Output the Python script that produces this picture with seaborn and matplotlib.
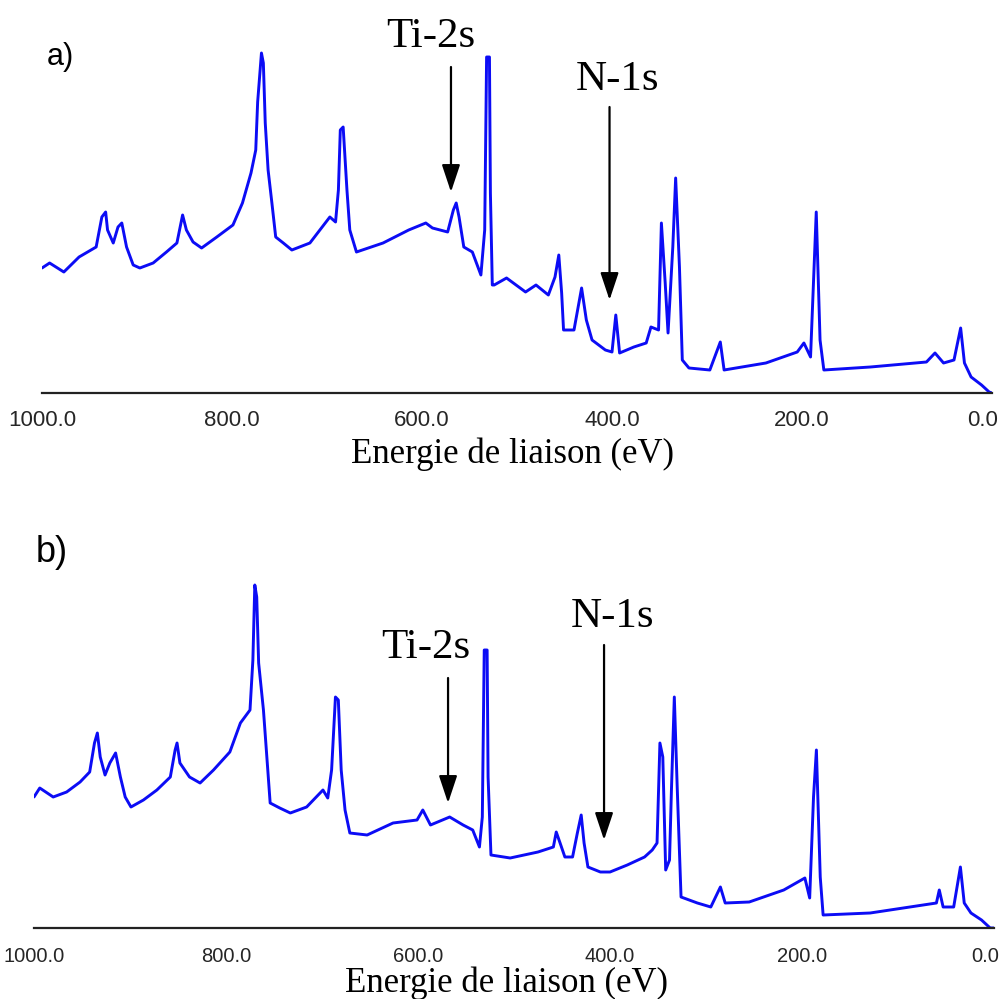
import matplotlib
matplotlib.use("Agg")
import matplotlib.pyplot as plt
import matplotlib.transforms as mtransforms
import seaborn as sns
import pandas as pd

# ---------------- data (binding energy in eV, intensity in arbitrary units) -------------
energy_a = [1000, 992, 977, 961, 943, 937, 933, 931, 925, 920, 916, 911, 904, 897, 883, 869,
            858, 852, 848, 841, 832, 816, 799, 789, 780, 775, 773, 769, 767, 765, 762, 758,
            754, 746, 737, 718, 697, 691, 688, 686, 683, 679, 676, 669, 641, 614, 596, 589,
            573, 567, 564, 561, 556, 547, 538, 534, 532, 529, 528, 526, 524, 511, 491, 480,
            467, 460, 456, 453, 451, 440, 432, 427, 421, 407, 400, 396, 392, 377, 364, 359,
            351, 348, 344, 341, 336, 333, 329, 326, 319, 297, 286, 282, 238, 205, 198, 191,
            185, 181, 177, 128, 69, 60, 51, 40, 33, 29, 22, 11, 3, 0]
intensity_a = [125, 130, 121, 136, 146, 176, 181, 163, 150, 166, 170, 146, 128, 125, 130, 141,
               150, 178, 163, 151, 145, 156, 168, 190, 220, 243, 291, 340, 330, 270, 223, 190,
               156, 150, 143, 150, 176, 171, 203, 263, 266, 203, 163, 141, 150, 163, 170, 165,
               161, 183, 190, 176, 146, 141, 118, 163, 336, 336, 200, 108, 108, 115, 101, 108,
               98, 116, 138, 100, 63, 63, 105, 73, 53, 43, 41, 78, 40, 46, 50, 66,
               63, 170, 110, 60, 146, 215, 126, 33, 25, 23, 51, 23, 30, 41, 50, 36,
               181, 53, 23, 26, 31, 40, 30, 33, 65, 30, 16, 8, 1, 0]

energy_b = [1000, 994, 980, 966, 952, 942, 937, 934, 931, 926, 921, 915, 910, 905, 899, 886,
            872, 858, 853, 851, 848, 838, 827, 813, 796, 785, 775, 772, 770, 768, 766, 761,
            757, 754, 744, 733, 716, 699, 694, 690, 686, 683, 680, 676, 671, 653, 626, 601,
            595, 587, 567, 553, 543, 536, 533, 531, 528, 527, 524, 504, 475, 459, 456, 452,
            447, 439, 434, 430, 427, 423, 410, 400, 382, 364, 356, 351, 348, 345, 342, 338,
            336, 333, 330, 326, 309, 295, 285, 280, 255, 219, 197, 192, 188, 185, 181, 178,
            129, 60, 57, 53, 42, 35, 31, 24, 13, 4, 0]
intensity_b = [131, 140, 131, 136, 146, 156, 185, 195, 171, 153, 165, 175, 151, 131, 121, 128,
               138, 151, 178, 185, 165, 151, 145, 158, 176, 205, 218, 268, 343, 331, 265, 218,
               165, 125, 120, 115, 121, 138, 130, 158, 231, 228, 158, 118, 95, 93, 105, 108,
               118, 103, 111, 103, 98, 81, 111, 278, 278, 151, 73, 70, 76, 81, 96, 85,
               71, 71, 95, 113, 85, 61, 56, 56, 63, 71, 78, 85, 185, 171, 58, 68,
               138, 231, 141, 31, 25, 21, 41, 25, 26, 38, 50, 30, 131, 178, 51, 13,
               15, 25, 38, 21, 21, 61, 25, 15, 8, 0, 0]

tick_values = [1000, 800, 600, 400, 200, 0]
tick_labels = ["1000.0", "800.0", "600.0", "400.0", "200.0", "0.0"]
x_label = "Energie de liaison (eV)"
panel_labels = ["a)", "b)"]
peak_names = ["Ti-2s", "N-1s"]
# -----------------------------------------------------------------------------------------

sns.set_style("white")
plt.rcParams['font.family'] = ['DejaVu Sans']
plt.rcParams['text.color'] = 'black'

W, H = 1001, 999
fig = plt.figure(figsize=(W / 100, H / 100), dpi=100)

line_color = "#0c0cf5"
serif = ['Liberation Serif', 'DejaVu Serif']
sans = ['Liberation Sans', 'DejaVu Sans']


def make_axes(left_px, axis_px, right_px):
    return fig.add_axes([left_px / W, (H - axis_px) / H, (right_px - left_px) / W, 393 / H])


ax_a = make_axes(42, 393, 992)
ax_b = make_axes(34, 928, 994)

df_a = pd.DataFrame({"E": energy_a, "I": intensity_a})
df_b = pd.DataFrame({"E": energy_b, "I": intensity_b})

for ax, df, pad, tsize, lab_xy in [(ax_a, df_a, 10.0, 16, (0.495, -0.178)),
                                   (ax_b, df_b, 11.5, 14.5, (0.492, -0.163))]:
    sns.lineplot(data=df, x="E", y="I", ax=ax, color=line_color, lw=2.1,
                 sort=False, estimator=None)
    ax.set_xlim(1000, 0)
    ax.set_ylim(0, 393)
    ax.set_yticks([])
    ax.set_ylabel("")
    ax.set_xticks(tick_values)
    ax.set_xticklabels(tick_labels, fontfamily=sans, fontsize=tsize, color='#262626')
    ax.tick_params(axis='x', direction='inout', length=5, width=1.2, color='#222222', pad=pad)
    for s in ['top', 'left', 'right']:
        ax.spines[s].set_visible(False)
    ax.spines['bottom'].set_linewidth(1.6)
    ax.spines['bottom'].set_color('#222222')
    ax.set_xlabel(x_label, fontfamily=serif, fontsize=25, color='black')
    ax.xaxis.label.set_va('baseline')
    ax.xaxis.set_label_coords(*lab_xy)
    ax.patch.set_alpha(0)
    # keep the last label inside the figure, as in the reference
    last = ax.get_xticklabels()[-1]
    last.set_transform(last.get_transform() +
                       mtransforms.ScaledTranslation(-9 / 100, 0, fig.dpi_scale_trans))

arrow_style = dict(arrowstyle='-|>,head_length=0.6,head_width=0.2', color='black',
                   lw=1.6, shrinkA=0, shrinkB=0, mutation_scale=28)

# panel a annotations
ax_a.annotate('', xy=(569.5, 201), xytext=(569.5, 326), arrowprops=arrow_style)
ax_a.annotate('', xy=(402.6, 93), xytext=(402.6, 286), arrowprops=arrow_style)
ax_a.text(590.6, 346, peak_names[0], fontfamily=serif, fontsize=31, ha='center',
          va='baseline', color='black')
ax_a.text(394.2, 303, peak_names[1], fontfamily=serif, fontsize=31, ha='center',
          va='baseline', color='black')

# panel b annotations
ax_b.annotate('', xy=(568.7, 125), xytext=(568.7, 250), arrowprops=arrow_style)
ax_b.annotate('', xy=(406.2, 88), xytext=(406.2, 283), arrowprops=arrow_style)
ax_b.text(591.7, 270, peak_names[0], fontfamily=serif, fontsize=31, ha='center',
          va='baseline', color='black')
ax_b.text(396.9, 301, peak_names[1], fontfamily=serif, fontsize=31, ha='center',
          va='baseline', color='black')

fig.text(47 / W, 1 - 65 / H, panel_labels[0], fontfamily=sans, fontsize=22,
         ha='left', va='baseline', color='black')
fig.text(36 / W, 1 - 562 / H, panel_labels[1], fontfamily=sans, fontsize=26,
         ha='left', va='baseline', color='black')

fig.savefig("out.png", dpi=100)
